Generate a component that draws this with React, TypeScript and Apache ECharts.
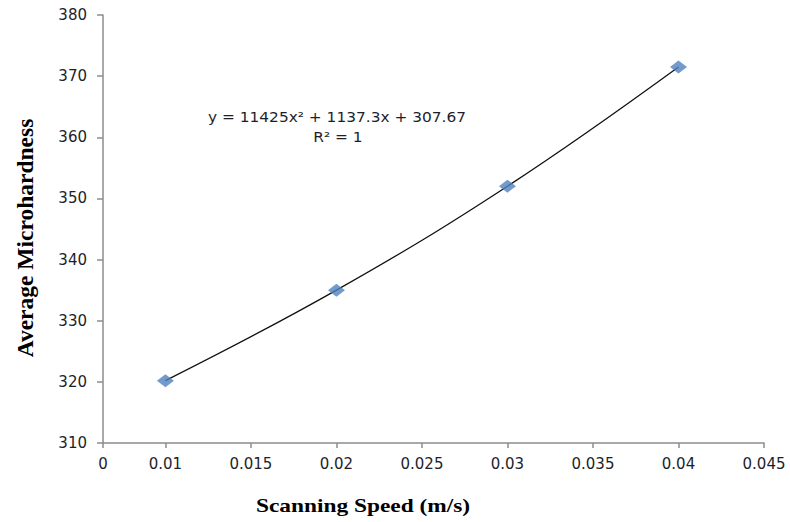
import React, { useEffect, useRef } from "react";
import * as echarts from "echarts";

const speeds = [0.01, 0.02, 0.03, 0.04];
const hardness = [320.2, 335, 352, 371.5];
const xMin = 0.00635;
const xTickValues = [xMin, 0.01, 0.015, 0.02, 0.025, 0.03, 0.035, 0.04, 0.045];
const xTickLabels = ["0", "0.01", "0.015", "0.02", "0.025", "0.03", "0.035", "0.04", "0.045"];
const equationText = "y = 11425x\u00B2 + 1137.3x + 307.67";
const r2Text = "R\u00B2 = 1";
const xTitle = "Scanning Speed (m/s)";
const yTitle = "Average Microhardness";

export default function App() {
  const ref = useRef<HTMLDivElement>(null);
  useEffect(() => {
    if (!ref.current) return;
    const chart = echarts.init(ref.current, undefined, { renderer: "svg" });
    const pts = speeds.map((s, i) => [s, hardness[i]]);
    const axisColor = "#8c8c8c";
    const labelStyle = { color: "#1e1e2a", fontFamily: "DejaVu Sans", fontSize: 15 };
    chart.setOption({
      animation: false,
      backgroundColor: "#fff",
      grid: { left: 103, right: 26, top: 15, bottom: 79 },
      xAxis: {
        type: "value",
        min: xMin,
        max: 0.045,
        axisLine: { show: true, lineStyle: { color: axisColor, width: 1.5 } },
        axisTick: {
          show: true,
          length: 5,
          customValues: xTickValues,
          lineStyle: { color: axisColor, width: 1.5 },
        },
        splitLine: { show: false },
        axisLabel: {
          ...labelStyle,
          margin: 13,
          customValues: xTickValues,
          formatter: (v: number) => {
            let best = 0;
            xTickValues.forEach((t, i) => {
              if (Math.abs(t - v) < Math.abs(xTickValues[best] - v)) best = i;
            });
            return xTickLabels[best];
          },
        },
      },
      yAxis: {
        type: "value",
        min: 310,
        max: 380,
        interval: 10,
        axisLine: { show: true, lineStyle: { color: axisColor, width: 1.5 } },
        axisTick: { show: true, length: 6, lineStyle: { color: axisColor, width: 1.5 } },
        splitLine: { show: false },
        axisLabel: { ...labelStyle, margin: 16 },
      },
      series: [
        {
          type: "line",
          data: pts,
          smooth: 0.4,
          showSymbol: false,
          symbol: "none",
          lineStyle: { color: "#111", width: 1.3 },
          z: 1,
        },
        {
          type: "scatter",
          data: pts,
          symbol: "diamond",
          symbolSize: [17, 13],
          itemStyle: { color: "#4F81BD" },
          z: 2,
        },
      ],
      graphic: [
        {
          type: "text",
          x: 337,
          y: 117,
          scaleX: 1.14,
          style: {
            text: equationText,
            fontFamily: "DejaVu Sans",
            fontSize: 13.5,
            fill: "#1e1e2a",
            align: "center",
            verticalAlign: "middle",
          },
        },
        {
          type: "text",
          x: 338,
          y: 137,
          scaleX: 1.14,
          style: {
            text: r2Text,
            fontFamily: "DejaVu Sans",
            fontSize: 13.5,
            fill: "#1e1e2a",
            align: "center",
            verticalAlign: "middle",
          },
        },
        {
          type: "text",
          x: 363,
          y: 506,
          scaleX: 1.23,
          style: {
            text: xTitle,
            fontFamily: "Liberation Serif",
            fontWeight: "bold",
            fontSize: 19,
            fill: "#000",
            align: "center",
            verticalAlign: "middle",
          },
        },
        {
          type: "text",
          x: 25,
          y: 238,
          rotation: Math.PI / 2,
          style: {
            text: yTitle,
            fontFamily: "Liberation Serif",
            fontWeight: "bold",
            fontSize: 23.5,
            fill: "#000",
            align: "center",
            verticalAlign: "middle",
          },
        },
      ],
    });
    return () => chart.dispose();
  }, []);
  return <div ref={ref} style={{ width: 790, height: 522, position: "absolute", left: 0, top: 0 }} />;
}
